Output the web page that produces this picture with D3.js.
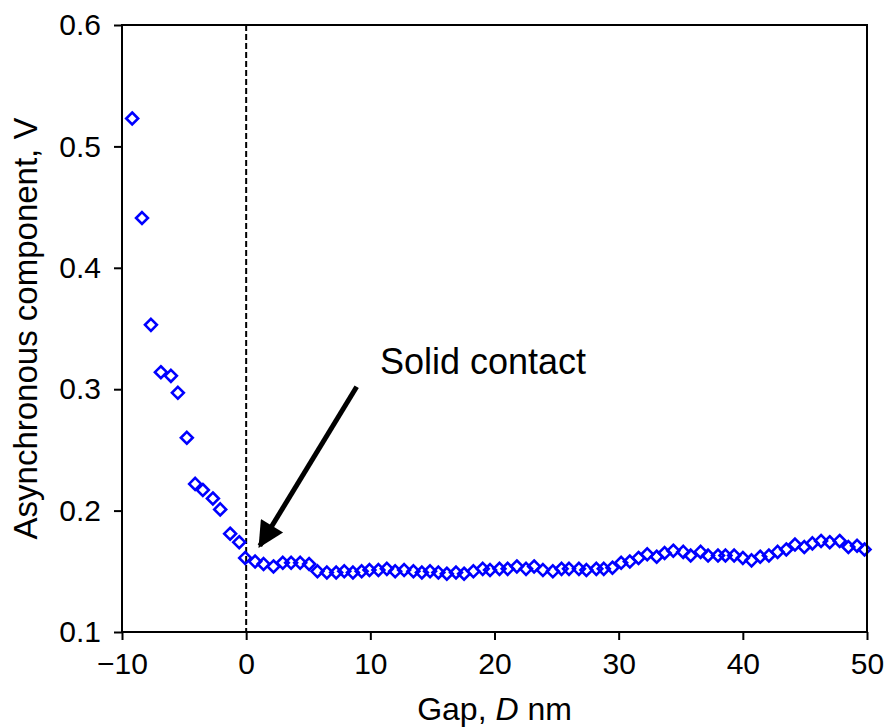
<!DOCTYPE html>
<html>
<head>
<meta charset="utf-8">
<script src="https://cdn.jsdelivr.net/npm/d3@7"></script>
<style>
  html, body { margin: 0; padding: 0; background: #fff; }
  svg { display: block; font-family: "Liberation Sans", Arial, sans-serif; }
</style>
</head>
<body>
<svg id="chart" width="887" height="727"></svg>
<script>
// Gap D (nm) and asynchronous component (V)
const gap = [
  -9.18, -8.39, -7.67, -6.87, -6.06, -5.50, -4.78, -4.11, -3.49, -2.68,
  -2.09, -1.29, -0.56, -0.08, 0.72, 1.40, 2.20, 2.95, 3.62, 4.35,
  5.07, 5.74, 6.50, 7.25, 7.90, 8.60, 9.30, 9.93, 10.65, 11.33,
  12.00, 12.72, 13.47, 14.15, 14.81, 15.48, 16.16, 16.90, 17.55, 18.30,
  19.05, 19.64, 20.40, 21.06, 21.80, 22.54, 23.19, 23.90, 24.70, 25.40,
  26.00, 26.80, 27.40, 28.20, 28.80, 29.50, 30.20, 30.90, 31.60, 32.30,
  33.06, 33.70, 34.40, 35.20, 35.80, 36.60, 37.20, 38.00, 38.60, 39.30,
  40.00, 40.70, 41.40, 42.10, 42.80, 43.50, 44.20, 44.95, 45.60, 46.30,
  47.00, 47.80, 48.50, 49.20, 49.80
];
const voltage = [
  0.523, 0.441, 0.353, 0.314, 0.311, 0.297, 0.260, 0.222, 0.217, 0.210,
  0.201, 0.181, 0.174, 0.161, 0.158, 0.156, 0.154, 0.157, 0.157, 0.157,
  0.156, 0.150, 0.149, 0.149, 0.150, 0.149, 0.150, 0.151, 0.151, 0.152,
  0.150, 0.151, 0.150, 0.149, 0.150, 0.149, 0.148, 0.149, 0.148, 0.150,
  0.152, 0.151, 0.152, 0.152, 0.154, 0.152, 0.154, 0.151, 0.150, 0.152,
  0.152, 0.152, 0.151, 0.152, 0.152, 0.153, 0.157, 0.158, 0.161, 0.164,
  0.162, 0.165, 0.167, 0.166, 0.163, 0.166, 0.163, 0.163, 0.163, 0.163,
  0.161, 0.159, 0.162, 0.163, 0.166, 0.168, 0.172, 0.170, 0.173, 0.175,
  0.174, 0.175, 0.170, 0.171, 0.168
];
const xTicks = [-10, 0, 10, 20, 30, 40, 50];
const yTicks = [0.1, 0.2, 0.3, 0.4, 0.5, 0.6];
const contactGap = 0;
const annotation = { text: "Solid contact", from: [8.9, 0.302], to: [1.1, 0.171] };

const svg = d3.select("#chart");
const m = { left: 122, right: 867, top: 25, bottom: 632 };

const x = d3.scaleLinear().domain([-10, 50]).range([m.left, m.right]);
const y = d3.scaleLinear().domain([0.1, 0.6]).range([m.bottom, m.top]);

// Dashed line marking the contact point
svg.append("line")
  .attr("x1", x(contactGap)).attr("x2", x(contactGap))
  .attr("y1", m.top).attr("y2", m.bottom)
  .attr("stroke", "#000").attr("stroke-width", 2)
  .attr("stroke-dasharray", "6,3");

// Data markers: open blue diamonds
const diamond = d3.symbol().type(d3.symbolDiamond2).size(90);
svg.append("g")
  .selectAll("path")
  .data(gap.map((g, i) => [g, voltage[i]]))
  .join("path")
  .attr("d", diamond)
  .attr("transform", d => `translate(${x(d[0])},${y(d[1])})`)
  .attr("fill", "none")
  .attr("stroke", "#0000ff")
  .attr("stroke-width", 2.6);

// Axes
const xAxis = d3.axisBottom(x).tickValues(xTicks).tickSize(8).tickPadding(13)
  .tickFormat(d => d < 0 ? "\u2212" + Math.abs(d) : d);
const yAxis = d3.axisLeft(y).tickValues(yTicks).tickSize(8).tickPadding(13)
  .tickFormat(d3.format(".1f"));

const gx = svg.append("g").attr("transform", `translate(0,${m.bottom})`).call(xAxis);
const gy = svg.append("g").attr("transform", `translate(${m.left},0)`).call(yAxis);
[gx, gy].forEach(g => {
  g.select(".domain").remove();
  g.selectAll(".tick line").attr("stroke", "#000").attr("stroke-width", 2);
  g.selectAll(".tick text").attr("fill", "#000").attr("font-size", 30)
    .attr("font-family", "'Liberation Sans', Arial, sans-serif");
});

// Frame
svg.append("rect")
  .attr("x", m.left).attr("y", m.top)
  .attr("width", m.right - m.left).attr("height", m.bottom - m.top)
  .attr("fill", "none").attr("stroke", "#000").attr("stroke-width", 2);

// Axis titles
const xt = svg.append("text")
  .attr("x", (m.left + m.right) / 2).attr("y", 720)
  .attr("text-anchor", "middle").attr("font-size", 32).attr("fill", "#000");
xt.append("tspan").text("Gap, ");
xt.append("tspan").attr("font-style", "italic").text("D");
xt.append("tspan").text(" nm");

svg.append("text")
  .attr("transform", `translate(37,${(m.top + m.bottom) / 2}) rotate(-90)`)
  .attr("text-anchor", "middle").attr("font-size", 33).attr("fill", "#000")
  .text("Asynchronous component, V");

// Annotation arrow
const defs = svg.append("defs");
defs.append("marker")
  .attr("id", "head").attr("viewBox", "0 0 10 10")
  .attr("refX", 9).attr("refY", 5)
  .attr("markerWidth", 6.2).attr("markerHeight", 5.2)
  .attr("markerUnits", "strokeWidth")
  .attr("orient", "auto")
  .append("path").attr("d", "M0,0 L10,5 L0,10 Z").attr("fill", "#000");

svg.append("line")
  .attr("x1", x(annotation.from[0])).attr("y1", y(annotation.from[1]))
  .attr("x2", x(annotation.to[0])).attr("y2", y(annotation.to[1]))
  .attr("stroke", "#000").attr("stroke-width", 5)
  .attr("marker-end", "url(#head)");

svg.append("text")
  .attr("x", 380).attr("y", 374)
  .attr("font-size", 36).attr("fill", "#000")
  .text(annotation.text);
</script>
</body>
</html>
